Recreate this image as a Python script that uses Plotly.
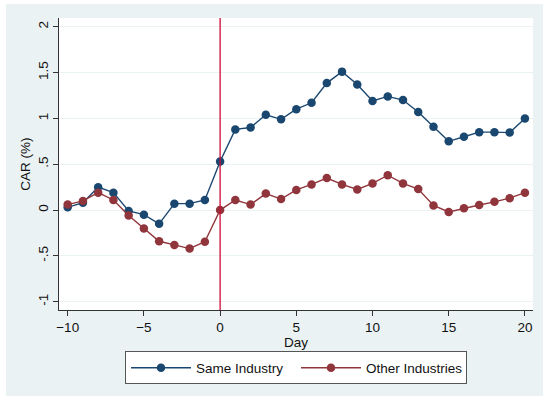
import plotly.graph_objects as go

# Event window (days relative to the announcement)
days = list(range(-10, 21))

# Cumulative abnormal returns (%)
same_industry = [0.03, 0.08, 0.25, 0.19, -0.01, -0.05, -0.15, 0.07, 0.07, 0.11,
                 0.53, 0.88, 0.90, 1.04, 0.99, 1.10, 1.17, 1.385, 1.51, 1.37,
                 1.19, 1.24, 1.20, 1.07, 0.91, 0.75, 0.80, 0.85, 0.85, 0.845, 1.00]
other_industries = [0.06, 0.10, 0.19, 0.11, -0.06, -0.20, -0.34, -0.38, -0.42, -0.345,
                    0.00, 0.11, 0.06, 0.18, 0.12, 0.22, 0.28, 0.35, 0.28, 0.225,
                    0.29, 0.38, 0.29, 0.23, 0.05, -0.02, 0.02, 0.055, 0.09, 0.13, 0.19]

y_tickvals = [-1, -0.5, 0, 0.5, 1, 1.5, 2]
y_ticktext = ["-1", "-.5", "0", ".5", "1", "1.5", "2"]
x_tickvals = [-10, -5, 0, 5, 10, 15, 20]

NAVY = "#1a476f"
MAROON = "#90353b"
REGION = "#eaf2f3"
FONT = "Liberation Sans, Arial, sans-serif"
FS = 13.5

fig = go.Figure()
fig.add_trace(go.Scatter(
    x=days, y=same_industry, name="Same Industry", mode="lines+markers",
    line=dict(color=NAVY, width=1.4),
    marker=dict(color=NAVY, size=8.5),
))
fig.add_trace(go.Scatter(
    x=days, y=other_industries, name="Other Industries", mode="lines+markers",
    line=dict(color=MAROON, width=1.4),
    marker=dict(color=MAROON, size=8.5),
))

# Event day reference line
fig.add_shape(type="line", xref="x", yref="paper", x0=0, x1=0, y0=0, y1=1,
              line=dict(color="#cc0a36", width=1.3), layer="above")

# White border strips around the graph region
fig.add_shape(type="rect", xref="paper", yref="paper",
              x0=-59 / 474, x1=-53 / 474, y0=-86 / 292, y1=1 + 18 / 292,
              line=dict(width=0), fillcolor="white", layer="below")
fig.add_shape(type="rect", xref="paper", yref="paper",
              x0=-59 / 474, x1=1 + 10 / 474, y0=1 + 14 / 292, y1=1 + 18 / 292,
              line=dict(width=0), fillcolor="white", layer="below")

fig.update_layout(
    width=543, height=396,
    margin=dict(l=59, r=10, t=18, b=86),
    paper_bgcolor=REGION,
    plot_bgcolor="white",
    font=dict(family=FONT, size=FS, color="#111111"),
    showlegend=True,
    legend=dict(
        orientation="h", x=0.5, xanchor="center", y=-0.142, yanchor="top",
        bgcolor="white", bordercolor="#555555", borderwidth=1,
        font=dict(family=FONT, size=FS, color="#111111"),
        itemwidth=60, entrywidth=95, tracegroupgap=0,
    ),
    xaxis=dict(
        range=[-10.57, 20.53], tickvals=x_tickvals,
        showgrid=False, zeroline=False,
        showline=True, linecolor="#333333", linewidth=1,
        ticks="outside", ticklen=5, tickcolor="#333333",
        tickfont=dict(size=FS),
        title=dict(text="Day", font=dict(size=FS), standoff=0),
    ),
    yaxis=dict(
        range=[-1.09, 2.095], tickvals=y_tickvals, ticktext=y_ticktext,
        tickangle=-90,
        showgrid=True, gridcolor=REGION, gridwidth=1, zeroline=False,
        showline=True, linecolor="#333333", linewidth=1,
        ticks="outside", ticklen=5, tickcolor="#333333",
        tickfont=dict(size=FS),
        title=dict(text="CAR (%)", font=dict(size=FS), standoff=1),
    ),
)

fig.write_html("out.html")
